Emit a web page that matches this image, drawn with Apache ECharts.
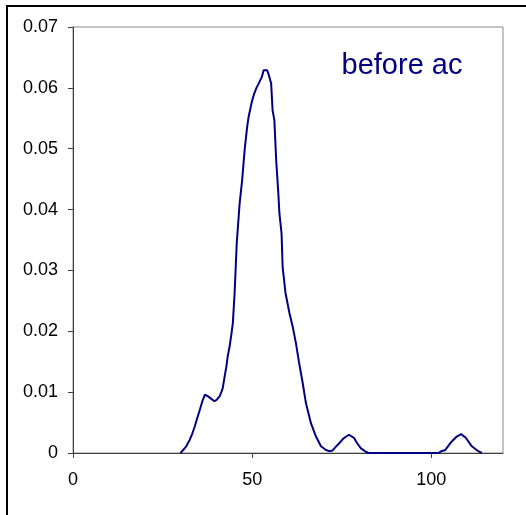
<!DOCTYPE html>
<html>
<head>
<meta charset="utf-8">
<script src="https://cdn.jsdelivr.net/npm/echarts@6/dist/echarts.min.js"></script>
<style>
html,body{margin:0;padding:0;background:#fff;}
#chart{width:526px;height:515px;}
</style>
</head>
<body>
<div id="chart"></div>
<script>
const xValues = [30.0,30.3,31.5,32.6,33.3,34.0,34.7,35.4,36.1,36.8,37.7,38.6,39.5,40.2,40.9,41.4,41.8,42.3,42.8,43.2,43.7,44.2,44.6,45.1,45.7,46.5,47.2,47.9,48.6,49.0,49.9,50.6,51.2,51.8,52.7,53.2,54.2,54.8,55.3,55.7,56.2,56.7,57.3,57.6,58.2,58.5,59.3,60.4,61.3,62.2,63.1,64.1,65.0,66.4,67.8,69.2,70.6,71.5,72.4,73.3,74.3,75.5,77.0,78.4,79.3,80.3,81.7,82.5,102.0,102.8,103.9,105.7,107.1,108.3,109.6,111.3,113.1,114.1];
const yValues = [0,0.0003,0.0010,0.0022,0.0032,0.0044,0.0058,0.0071,0.0085,0.0096,0.0093,0.0089,0.0085,0.0088,0.0093,0.0100,0.0107,0.0125,0.0142,0.0160,0.0175,0.0195,0.0213,0.0263,0.0345,0.0410,0.0448,0.0498,0.0536,0.0552,0.0577,0.0591,0.0600,0.0607,0.0618,0.0629,0.0629,0.0618,0.0607,0.0563,0.0547,0.0481,0.0427,0.0394,0.0361,0.0306,0.0263,0.0230,0.0208,0.0181,0.0148,0.0115,0.0082,0.0049,0.0027,0.0011,0.0005,0.0003,0.0004,0.0010,0.0016,0.0024,0.0030,0.0025,0.0016,0.0008,0.0002,0,0,0.0003,0.0005,0.0019,0.0027,0.0031,0.0025,0.0011,0.0003,0];
const xTicks = [0, 50, 100];
const yTicks = [0, 0.01, 0.02, 0.03, 0.04, 0.05, 0.06, 0.07];
const labelText = 'before ac';

const seriesData = xValues.map((x, i) => [x, yValues[i]]);

const chart = echarts.init(document.getElementById('chart'), null, {renderer: 'canvas'});
chart.setOption({
  animation: false,
  backgroundColor: '#ffffff',
  grid: {left: 73, top: 27, right: 23, bottom: 62, show: true, borderColor: '#8a8a8a', borderWidth: 1, backgroundColor: 'transparent'},
  xAxis: {
    type: 'value', min: 0, max: 120, interval: 50,
    splitLine: {show: false},
    axisLine: {show: true, onZero: false, lineStyle: {color: '#404040', width: 1}},
    axisTick: {show: true, inside: false, length: 5, customValues: xTicks, lineStyle: {color: '#404040'}},
    axisLabel: {customValues: xTicks, margin: 18, color: '#000', fontFamily: 'Liberation Sans', fontSize: 18}
  },
  yAxis: {
    type: 'value', min: 0, max: 0.07, interval: 0.01,
    splitLine: {show: false},
    axisLine: {show: true, onZero: false, lineStyle: {color: '#404040', width: 1}},
    axisTick: {show: true, inside: false, length: 5, customValues: yTicks, lineStyle: {color: '#404040'}},
    axisLabel: {customValues: yTicks, margin: 15, color: '#000', fontFamily: 'Liberation Sans', fontSize: 18,
      formatter: v => v === 0 ? '0' : v.toFixed(2)}
  },
  series: [{
    type: 'line', data: seriesData, showSymbol: false, smooth: false,
    lineStyle: {color: '#000080', width: 2}
  }],
  graphic: [
    {type: 'rect', shape: {x: 7, y: 6, width: 540, height: 540}, style: {fill: 'none', stroke: '#000', lineWidth: 2}, silent: true},
    {type: 'text', style: {text: labelText, x: 402, y: 51, textAlign: 'center', textVerticalAlign: 'top', fill: '#000080', font: '29px "Liberation Sans"'}}
  ]
});
</script>
</body>
</html>
